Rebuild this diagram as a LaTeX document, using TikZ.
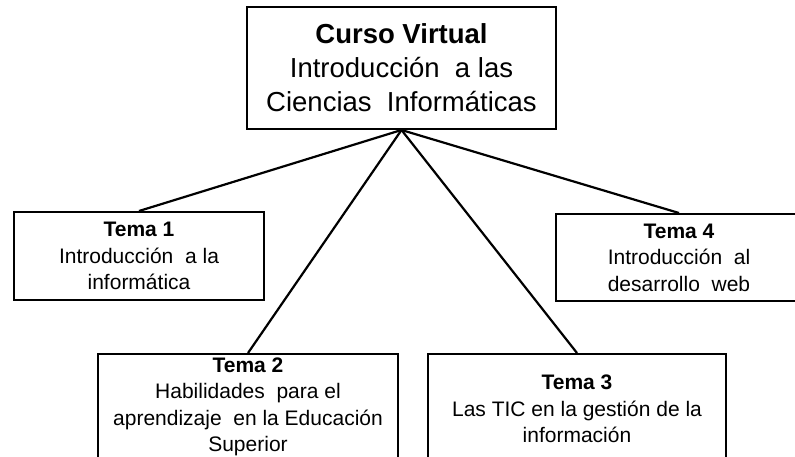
\documentclass[tikz,border=0pt]{standalone}
\usepackage{fontspec}
\setmainfont{Liberation Sans}
\begin{document}
\begin{tikzpicture}[x=1pt,y=-1pt,
  box/.style={draw=black, line width=2pt, fill=white, inner sep=0pt, align=center, anchor=north west},
  bigtext/.style={font=\fontsize{27.5}{34}\selectfont},
  smalltext/.style={font=\fontsize{21}{26.5}\selectfont},
  link/.style={draw=black, line width=2.2pt}]
\useasboundingbox (0,0) rectangle (795,456);
\clip (0,0) rectangle (795,456);
\fill[white] (0,0) rectangle (795,456);
\node[box, bigtext, minimum width=309pt, minimum height=122pt] (top) at (246,6)
  {\textbf{Curso Virtual}\\Introducción\ \ a las\\Ciencias\ \ Informáticas};
\node[box, smalltext, minimum width=250pt, minimum height=88pt] (t1) at (13,211)
  {\textbf{Tema 1}\\Introducción\ \ a la\\informática};
\node[box, smalltext, minimum width=246pt, minimum height=87pt] (t4) at (555,213)
  {\textbf{Tema 4}\\Introducción\ \ al\\desarrollo\ \ web};
\node[box, smalltext, minimum width=300pt, minimum height=106pt] (t2) at (97,353)
  {\textbf{Tema 2}\\Habilidades\ \ para el\\aprendizaje\ \ en la Educación\\Superior};
\node[box, smalltext, minimum width=298pt, minimum height=110pt] (t3) at (427,353)
  {\textbf{Tema 3}\\Las TIC en la gestión de la\\información};
\draw[link] (top.south) -- (t1.north);
\draw[link] (top.south) -- (t2.north);
\draw[link] (top.south) -- (t3.north);
\draw[link] (top.south) -- (t4.north);
\end{tikzpicture}
\end{document}
